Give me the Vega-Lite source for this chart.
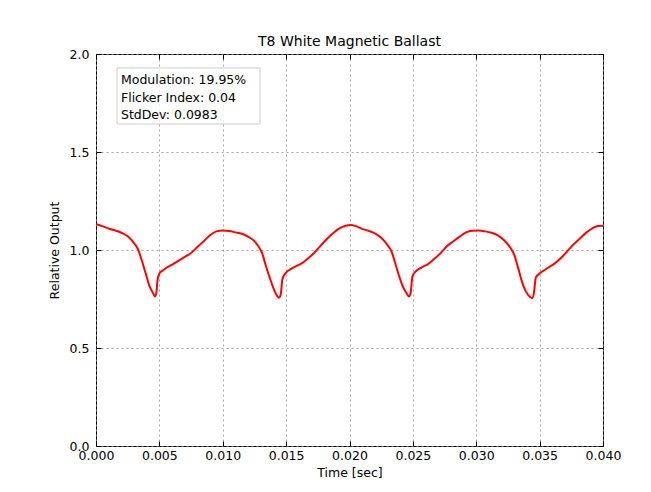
{
  "$schema": "https://vega.github.io/schema/vega-lite/v6.json",
  "autosize": {"type": "none"},
  "padding": {"left": 96, "top": 54, "right": 48, "bottom": 46},
  "width": 507,
  "height": 392,
  "background": "white",
  "title": {"text": "T8 White Magnetic Ballast", "font": "DejaVu Sans", "fontSize": 14, "fontWeight": "normal", "color": "black", "offset": -1},
  "config": {
    "font": "DejaVu Sans",
    "view": {"stroke": "black", "strokeWidth": 1},
    "axis": {
      "domain": false,
      "grid": true,
      "gridColor": "#8c8c8c",
      "gridDash": [2, 3],
      "gridWidth": 0.8,
      "tickColor": "black",
      "tickSize": -5,
      "labelFont": "DejaVu Sans",
      "labelFontSize": 12.5,
      "labelColor": "black",
      "titleFont": "DejaVu Sans",
      "titleFontSize": 12.5,
      "titleFontWeight": "normal",
      "titleColor": "black"
    }
  },
  "datasets": {
    "signal": [
      {"t": 0.0000, "v": 1.131}, {"t": 0.0005, "v": 1.122}, {"t": 0.0010, "v": 1.110}, {"t": 0.0015, "v": 1.100},
      {"t": 0.0020, "v": 1.088}, {"t": 0.0025, "v": 1.070}, {"t": 0.0030, "v": 1.035}, {"t": 0.0033, "v": 1.005},
      {"t": 0.0036, "v": 0.950}, {"t": 0.0039, "v": 0.885}, {"t": 0.0042, "v": 0.820}, {"t": 0.0045, "v": 0.780},
      {"t": 0.00465, "v": 0.763}, {"t": 0.00475, "v": 0.775}, {"t": 0.00485, "v": 0.845}, {"t": 0.0050, "v": 0.880},
      {"t": 0.0053, "v": 0.897}, {"t": 0.0057, "v": 0.915}, {"t": 0.0060, "v": 0.925}, {"t": 0.0065, "v": 0.945},
      {"t": 0.0070, "v": 0.965}, {"t": 0.0075, "v": 0.985}, {"t": 0.0080, "v": 1.015}, {"t": 0.0085, "v": 1.045},
      {"t": 0.0090, "v": 1.075}, {"t": 0.0095, "v": 1.095}, {"t": 0.0100, "v": 1.099}, {"t": 0.0105, "v": 1.097},
      {"t": 0.0110, "v": 1.090}, {"t": 0.0115, "v": 1.083}, {"t": 0.0120, "v": 1.068}, {"t": 0.0125, "v": 1.045},
      {"t": 0.0128, "v": 1.020}, {"t": 0.0131, "v": 0.985}, {"t": 0.0134, "v": 0.920}, {"t": 0.0137, "v": 0.860},
      {"t": 0.0140, "v": 0.805}, {"t": 0.0143, "v": 0.765}, {"t": 0.01445, "v": 0.757}, {"t": 0.01458, "v": 0.775},
      {"t": 0.0147, "v": 0.850}, {"t": 0.0150, "v": 0.885}, {"t": 0.0153, "v": 0.900}, {"t": 0.0157, "v": 0.915},
      {"t": 0.0162, "v": 0.930}, {"t": 0.0167, "v": 0.955}, {"t": 0.0172, "v": 0.985}, {"t": 0.0177, "v": 1.020},
      {"t": 0.0182, "v": 1.055}, {"t": 0.0187, "v": 1.085}, {"t": 0.0192, "v": 1.110}, {"t": 0.0197, "v": 1.124},
      {"t": 0.0201, "v": 1.128}, {"t": 0.0205, "v": 1.122}, {"t": 0.0210, "v": 1.108}, {"t": 0.0215, "v": 1.098},
      {"t": 0.0220, "v": 1.085}, {"t": 0.0225, "v": 1.062}, {"t": 0.0230, "v": 1.025}, {"t": 0.0233, "v": 0.995},
      {"t": 0.0236, "v": 0.935}, {"t": 0.0239, "v": 0.870}, {"t": 0.0242, "v": 0.815}, {"t": 0.0245, "v": 0.780},
      {"t": 0.02468, "v": 0.763}, {"t": 0.02482, "v": 0.780}, {"t": 0.02495, "v": 0.860}, {"t": 0.0251, "v": 0.882},
      {"t": 0.0254, "v": 0.900}, {"t": 0.0258, "v": 0.915}, {"t": 0.0262, "v": 0.928}, {"t": 0.0267, "v": 0.955},
      {"t": 0.0272, "v": 0.985}, {"t": 0.0277, "v": 1.020}, {"t": 0.0282, "v": 1.045}, {"t": 0.0287, "v": 1.068},
      {"t": 0.0292, "v": 1.090}, {"t": 0.0297, "v": 1.098}, {"t": 0.0302, "v": 1.099}, {"t": 0.0307, "v": 1.095},
      {"t": 0.0312, "v": 1.088}, {"t": 0.0317, "v": 1.075}, {"t": 0.0322, "v": 1.050}, {"t": 0.0326, "v": 1.020},
      {"t": 0.0330, "v": 0.975}, {"t": 0.0333, "v": 0.910}, {"t": 0.0336, "v": 0.840}, {"t": 0.0339, "v": 0.790},
      {"t": 0.03425, "v": 0.760}, {"t": 0.0344, "v": 0.754}, {"t": 0.03455, "v": 0.780}, {"t": 0.0347, "v": 0.860},
      {"t": 0.0350, "v": 0.880}, {"t": 0.0354, "v": 0.898}, {"t": 0.0358, "v": 0.915}, {"t": 0.0362, "v": 0.932},
      {"t": 0.0367, "v": 0.960}, {"t": 0.0372, "v": 0.995}, {"t": 0.0377, "v": 1.030}, {"t": 0.0382, "v": 1.060},
      {"t": 0.0387, "v": 1.090}, {"t": 0.0392, "v": 1.112}, {"t": 0.0396, "v": 1.123}, {"t": 0.0400, "v": 1.124}
    ]
  },
  "layer": [
    {
      "data": {"name": "signal"},
      "mark": {"type": "line", "color": "#ff0000", "strokeWidth": 2, "interpolate": "monotone", "clip": true},
      "encoding": {
        "x": {"field": "t", "type": "quantitative", "title": "Time [sec]",
              "scale": {"domain": [0, 0.04], "nice": false, "zero": false},
              "axis": {"values": [0, 0.005, 0.01, 0.015, 0.02, 0.025, 0.03, 0.035, 0.04], "format": ".3f", "labelPadding": 8, "titlePadding": 5, "labelFlush": false}},
        "y": {"field": "v", "type": "quantitative", "title": "Relative Output",
              "scale": {"domain": [0, 2], "nice": false, "zero": false},
              "axis": {"values": [0, 0.5, 1, 1.5, 2], "format": ".1f", "labelPadding": 12, "titlePadding": 8, "labelFlush": false}}
      }
    },
    {
      "data": {"name": "signal"},
      "mark": {"type": "point", "opacity": 0},
      "encoding": {
        "x": {"field": "t", "type": "quantitative",
              "axis": {"orient": "top", "values": [0, 0.005, 0.01, 0.015, 0.02, 0.025, 0.03, 0.035, 0.04], "labels": false, "grid": false, "title": null}},
        "y": {"field": "v", "type": "quantitative",
              "axis": {"orient": "right", "values": [0, 0.5, 1, 1.5, 2], "labels": false, "grid": false, "title": null}}
      }
    },
    {
      "data": {"values": [{}]},
      "mark": {"type": "rect", "fill": "white", "fillOpacity": 0.8, "stroke": "#cccccc", "strokeWidth": 1},
      "encoding": {
        "x": {"datum": 0.00166, "type": "quantitative", "axis": null},
        "x2": {"datum": 0.01294},
        "y": {"datum": 1.929, "type": "quantitative", "axis": null},
        "y2": {"datum": 1.643}
      }
    },
    {
      "data": {"values": [{}]},
      "mark": {"type": "text", "align": "left", "baseline": "middle", "font": "DejaVu Sans", "fontSize": 12.5, "color": "black", "text": "Modulation: 19.95%"},
      "encoding": {
        "x": {"datum": 0.00197, "type": "quantitative", "axis": null},
        "y": {"datum": 1.865, "type": "quantitative", "axis": null}
      }
    },
    {
      "data": {"values": [{}]},
      "mark": {"type": "text", "align": "left", "baseline": "middle", "font": "DejaVu Sans", "fontSize": 12.5, "color": "black", "text": "Flicker Index: 0.04"},
      "encoding": {
        "x": {"datum": 0.00197, "type": "quantitative", "axis": null},
        "y": {"datum": 1.776, "type": "quantitative", "axis": null}
      }
    },
    {
      "data": {"values": [{}]},
      "mark": {"type": "text", "align": "left", "baseline": "middle", "font": "DejaVu Sans", "fontSize": 12.5, "color": "black", "text": "StdDev: 0.0983"},
      "encoding": {
        "x": {"datum": 0.00197, "type": "quantitative", "axis": null},
        "y": {"datum": 1.689, "type": "quantitative", "axis": null}
      }
    }
  ],
  "resolve": {"axis": {"x": "independent", "y": "independent"}}
}
